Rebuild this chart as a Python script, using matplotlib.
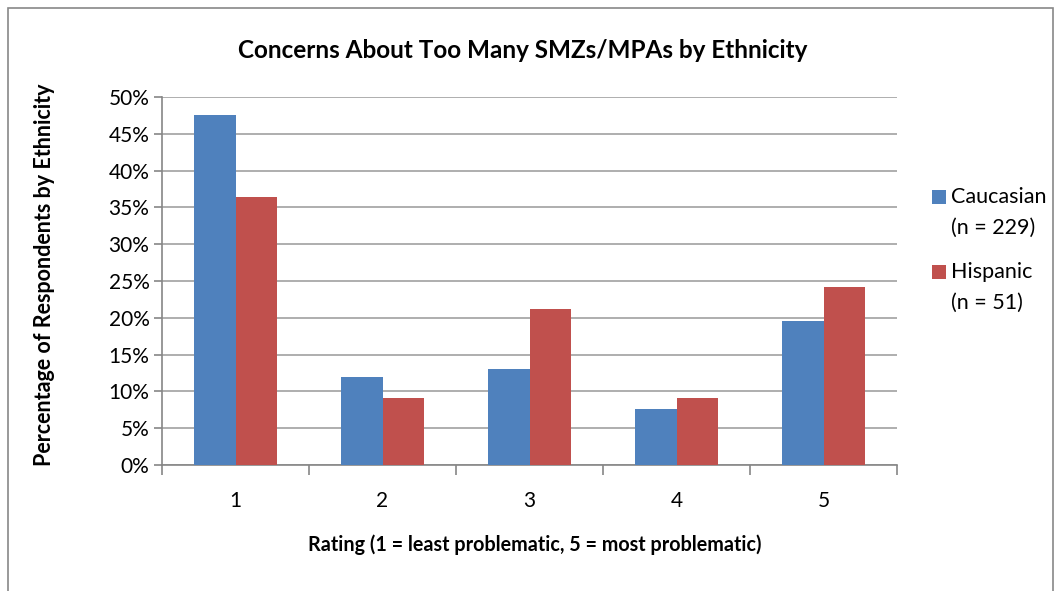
import numpy as np
import matplotlib.pyplot as plt
from matplotlib.patches import Rectangle
from matplotlib.ticker import PercentFormatter

# Data
ratings = ["1", "2", "3", "4", "5"]
caucasian = [47.6, 11.9, 13.0, 7.6, 19.6]
hispanic = [36.4, 9.1, 21.2, 9.1, 24.2]
series_labels = ["Caucasian\n(n = 229)", "Hispanic\n(n = 51)"]
yticks = [0, 5, 10, 15, 20, 25, 30, 35, 40, 45, 50]

blue = "#4f81bd"
red = "#c0504d"
axis_grey = "#868686"
W, H = 1056, 591

plt.rcParams['font.family'] = ['Lato', 'DejaVu Sans']

fig = plt.figure(figsize=(W / 100, H / 100), dpi=100)
ax = fig.add_axes([162 / W, 1 - 465 / H, 735 / W, 368 / H])

# outer chart border
fig.patches.append(Rectangle((8 / W, -0.01), 1045 / W, 1 - 8 / H + 0.01,
                             transform=fig.transFigure, fill=False,
                             edgecolor="#888888", linewidth=1.2))

x = np.arange(len(ratings))
w = 0.285
ax.bar(x - w / 2, caucasian, w, color=blue, zorder=3)
ax.bar(x + w / 2, hispanic, w, color=red, zorder=3)

ax.set_xlim(-0.5, len(ratings) - 0.5)
ax.set_ylim(0, 50)
ax.set_yticks(yticks)
ax.yaxis.set_major_formatter(PercentFormatter(decimals=0))
ax.grid(axis="y", color="#999999", linewidth=1.1, zorder=0)

# category labels centered, ticks on group boundaries
ax.set_xticks(x)
ax.set_xticklabels(ratings)
ax.set_xticks(np.arange(-0.5, len(ratings)), minor=True)
ax.tick_params(axis="x", which="major", length=0, labelsize=15, pad=19)
ax.tick_params(axis="x", which="minor", length=7, width=1.2, color=axis_grey)
ax.tick_params(axis="y", length=6, width=1.2, color=axis_grey, labelsize=15, pad=3)

for side in ["top", "right"]:
    ax.spines[side].set_visible(False)
for side in ["left", "bottom"]:
    ax.spines[side].set_color(axis_grey)
    ax.spines[side].set_linewidth(1.2)

fig.text(523 / W, 1 - 50 / H, "Concerns About Too Many SMZs/MPAs by Ethnicity",
         ha="center", va="center", fontsize=17.5, fontweight="bold")
fig.text(535 / W, 1 - 545 / H, "Rating (1 = least problematic, 5 = most problematic)",
         ha="center", va="center", fontsize=14.2, fontweight="bold")
fig.text(45 / W, 1 - 275 / H, "Percentage of Respondents by Ethnicity",
         ha="center", va="center", rotation=90, fontsize=15.5, fontweight="bold")

# legend: square aligned with first line of each two-line label
for i, (label, color) in enumerate(zip(series_labels, [blue, red])):
    y0 = 197 + i * 75
    fig.patches.append(Rectangle((932 / W, 1 - (y0 + 7) / H), 14 / W, 14 / H,
                                 transform=fig.transFigure, facecolor=color,
                                 edgecolor="none"))
    for j, line in enumerate(label.split("\n")):
        fig.text(951 / W, 1 - (y0 + j * 31) / H, line, ha="left", va="center",
                 fontsize=15.5)

fig.savefig("out.png", dpi=100)
